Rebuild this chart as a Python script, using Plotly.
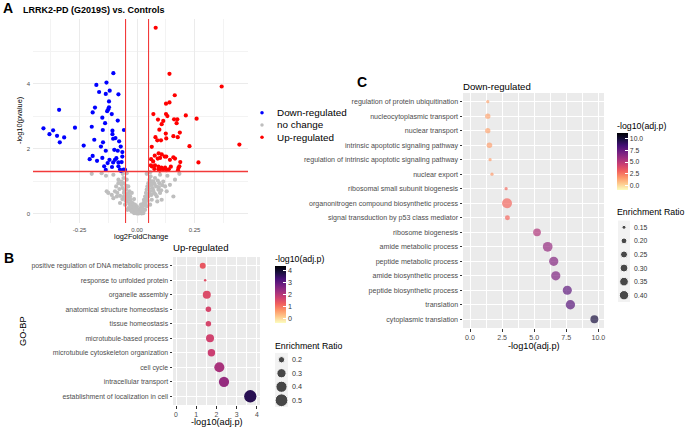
import numpy as np
import plotly.graph_objects as go

W, H = 685, 427
FONT = "Liberation Sans, Arial, sans-serif"

# ---------------- Panel A : volcano data ----------------
down_lfc = [-0.103, -0.177, -0.133, -0.165, -0.136, -0.119, -0.081, -0.122, -0.122, -0.125,
            -0.130, -0.183, -0.193, -0.110, -0.339, -0.151, -0.139, -0.084, -0.197, -0.149,
            -0.107, -0.057, -0.407, -0.365, -0.381, -0.348, -0.317, -0.336, -0.270, -0.107,
            -0.186, -0.104, -0.094, -0.078, -0.148, -0.157, -0.071, -0.099, -0.136, -0.084,
            -0.232, -0.064, -0.064, -0.193, -0.206, -0.174, -0.151, -0.090, -0.096, -0.120,
            -0.128, -0.104, -0.081, -0.067, -0.143, -0.109, -0.081, -0.074, -0.058, -0.136,
            -0.070, -0.052]
down_p = [4.33, 3.97, 4.04, 3.75, 3.69, 3.79, 3.68, 3.46, 3.28, 3.22,
          3.16, 3.27, 3.12, 3.07, 3.20, 2.96, 2.79, 2.87, 2.68, 2.58,
          2.56, 2.58, 2.63, 2.57, 2.45, 2.40, 2.35, 2.20, 2.65, 2.45,
          2.28, 2.31, 2.33, 2.23, 2.20, 2.07, 2.07, 1.97, 1.94, 1.94,
          2.10, 1.90, 1.76, 1.78, 1.68, 1.63, 1.72, 1.71, 1.66, 1.66,
          1.56, 1.58, 1.58, 1.59, 1.46, 1.44, 1.46, 1.36, 1.36, 1.35,
          1.32, 1.35]

up_lfc = [0.081, 0.141, 0.368, 0.164, 0.126, 0.141, 0.071, 0.126, 0.132, 0.212,
          0.259, 0.091, 0.114, 0.161, 0.175, 0.107, 0.172, 0.097, 0.125, 0.186,
          0.080, 0.158, 0.127, 0.177, 0.088, 0.104, 0.064, 0.228, 0.445, 0.094,
          0.107, 0.077, 0.120, 0.127, 0.158, 0.165, 0.061, 0.070, 0.090, 0.100,
          0.267, 0.188, 0.143, 0.078, 0.093, 0.106, 0.122, 0.060, 0.064, 0.147,
          0.180, 0.184, 0.075, 0.093, 0.114, 0.138, 0.178, 0.129, 0.099]
up_p = [5.73, 4.31, 3.92, 3.65, 3.39, 3.43, 3.07, 3.07, 3.01, 3.03,
        2.93, 2.90, 2.86, 2.91, 2.91, 2.76, 2.79, 2.59, 2.47, 2.50,
        2.36, 2.39, 2.32, 2.36, 2.26, 2.26, 2.06, 2.08, 2.13, 1.86,
        1.83, 1.79, 1.76, 1.76, 1.74, 1.70, 1.68, 1.61, 1.70, 1.72,
        1.58, 1.59, 1.66, 1.49, 1.45, 1.42, 1.42, 1.49, 1.46, 1.45,
        1.41, 1.46, 1.38, 1.37, 1.37, 1.37, 1.34, 1.34, 1.33]

nc_lfc = [-0.197, -0.154, -0.135, -0.103, -0.062, -0.045, 0.042, 0.057, 0.165, 0.184,
          0.132, 0.100, -0.132, -0.125, -0.096, -0.088, -0.074, -0.067, -0.062, -0.059,
          -0.057, -0.052, -0.048, -0.045, -0.042, -0.038, -0.033, -0.030, -0.030, -0.028,
          -0.023, -0.023, -0.019, -0.016, -0.013, -0.009, -0.009, -0.004, -0.001, 0.001,
          0.006, 0.010, 0.013, -0.030, -0.023, -0.038, -0.074, -0.103, -0.110, -0.086,
          -0.077, -0.091, -0.081, -0.045, -0.059, -0.067, -0.081, -0.052, -0.042, 0.013,
          0.017, 0.020, 0.025, 0.028, 0.030, 0.035, 0.036, 0.039, 0.042, 0.045,
          0.049, 0.049, 0.054, 0.057, 0.059, 0.064, 0.068, 0.071, 0.074, 0.078,
          0.083, 0.086, 0.088, 0.093, 0.097, 0.100, 0.107, 0.114, 0.122, 0.129,
          0.143, 0.158, 0.064, 0.057, 0.042, 0.035, 0.028, 0.020, 0.007, -0.001,
          -0.013, -0.050, -0.044, -0.036, -0.034, -0.026, -0.020, -0.017, -0.011, -0.006,
          -0.003, 0.003, -0.040, -0.055, -0.047, -0.058, -0.064, -0.036, -0.028, -0.015,
          -0.008, 0.015, 0.022, 0.026, 0.031, 0.033, 0.038, 0.041, 0.044, 0.046,
          0.050, 0.052, 0.055, 0.060, 0.062, 0.066, 0.070, 0.076, 0.080, 0.090,
          0.095, 0.105, 0.110, 0.012, 0.018]
nc_p = [1.23, 1.25, 1.17, 1.20, 1.23, 1.25, 1.23, 1.28, 1.05, 1.23,
        1.17, 1.20, 0.69, 0.64, 0.69, 0.53, 0.55, 0.89, 0.79, 0.94,
        0.64, 0.48, 0.74, 0.58, 0.38, 0.84, 0.69, 0.53, 0.28, 0.43,
        0.23, 0.64, 0.33, 0.17, 0.45, 0.12, 0.28, 0.07, 0.23, 0.12,
        0.02, 0.07, 0.12, 0.12, 0.07, 0.17, 0.33, 0.48, 0.58, 0.64,
        0.76, 0.84, 0.94, 1.05, 1.10, 0.99, 1.05, 0.28, 0.12, 0.17,
        0.28, 0.07, 0.23, 0.33, 0.43, 0.53, 0.38, 0.64, 0.74, 0.84,
        0.94, 0.53, 1.05, 0.69, 1.15, 0.89, 0.79, 0.99, 0.64, 1.10,
        0.84, 0.53, 0.38, 0.74, 0.94, 0.64, 0.43, 0.99, 0.84, 0.69,
        0.89, 0.53, 0.43, 0.28, 0.23, 0.12, 0.02, 0.01, 0.01, 0.01,
        0.02, 0.40, 0.50, 0.45, 0.30, 0.35, 0.15, 0.25, 0.18, 0.10,
        0.15, 0.05, 0.62, 0.70, 0.86, 0.52, 0.45, 0.58, 0.20, 0.05,
        0.03, 0.08, 0.18, 0.12, 0.25, 0.35, 0.30, 0.45, 0.55, 0.40,
        0.62, 0.78, 0.88, 0.95, 0.58, 1.00, 0.72, 0.92, 0.60, 1.02,
        0.82, 0.72, 0.88, 0.04, 0.14]

lfc_cutoffs = [-0.05, 0.05]
p_cutoff = 1.301
volcano_groups = ["Down-regulated", "no change", "Up-regulated"]
volcano_colors = ["#0000FF", "#BEBEBE", "#FF0000"]

# ---------------- Panel B : up-regulated GO-BP ----------------
up_terms = ["positive regulation of DNA metabolic process", "response to unfolded protein",
            "organelle assembly", "anatomical structure homeostasis", "tissue homeostasis",
            "microtubule-based process", "microtubule cytoskeleton organization", "cell cycle",
            "intracellular transport", "establishment of localization in cell"]
up_logp = [1.32, 1.44, 1.52, 1.60, 1.60, 1.68, 1.75, 2.14, 2.37, 3.67]
up_ratio = [0.19, 0.15, 0.25, 0.18, 0.18, 0.25, 0.23, 0.34, 0.35, 0.47]
up_size_breaks = [0.2, 0.3, 0.4, 0.5]
up_color_ticks = [0, 1, 2, 3, 4]

# ---------------- Panel C : down-regulated GO-BP ----------------
down_terms = ["regulation of protein ubiquitination", "nucleocytoplasmic transport", "nuclear transport",
              "intrinsic apoptotic signaling pathway", "regulation of intrinsic apoptotic signaling pathway",
              "nuclear export", "ribosomal small subunit biogenesis",
              "organonitrogen compound biosynthetic process", "signal transduction by p53 class mediator",
              "ribosome biogenesis", "amide metabolic process", "peptide metabolic process",
              "amide biosynthetic process", "peptide biosynthetic process", "translation",
              "cytoplasmic translation"]
down_logp = [1.38, 1.38, 1.38, 1.51, 1.56, 1.71, 2.81, 2.88, 2.91, 5.22, 6.05, 6.52, 6.68, 7.58, 7.82, 9.69]
down_ratio = [0.14, 0.18, 0.18, 0.19, 0.14, 0.14, 0.14, 0.45, 0.17, 0.29, 0.43, 0.39, 0.39, 0.38, 0.40, 0.30]
down_size_breaks = [0.15, 0.20, 0.25, 0.30, 0.35, 0.40]
down_color_ticks = [0, 2.5, 5, 7.5, 10]
down_color_ticktext = ["0.0", "2.5", "5.0", "7.5", "10.0"]
down_x_ticks = [0, 2.5, 5, 7.5, 10]


# ---------------- helpers ----------------
def fx(px):
    return px / W


def fy(py):
    return 1 - py / H


def size_up(r):
    r = np.asarray(r, dtype=float)
    return 2.5 + 11.0 * np.sqrt(np.clip((r - 0.15) / 0.40, 0, None))


def size_down(r):
    r = np.asarray(r, dtype=float)
    return 2.5 + 7.5 * np.sqrt(np.clip((r - 0.137) / 0.313, 0, None))


MAGMA_R = ['#fcfdbf', '#feca8d', '#fd9668', '#f1605d', '#cd4071',
           '#9e2f7f', '#721f81', '#440f76', '#180f3d', '#000004']
RED_LINE = "#F23A3A"

XR_A = [-0.4525, 0.4825]
YR_A = [-0.286, 6.0]

annotations = []


def ann(text, x, y, size, color="black", bold=False, xanchor="left", yanchor="middle",
        angle=0, xref="paper", yref="paper"):
    if xref == "paper":
        x = fx(x)
    if yref == "paper":
        y = fy(y)
    annotations.append(dict(text=("<b>%s</b>" % text) if bold else text, x=x, y=y,
                            xref=xref, yref=yref, xanchor=xanchor, yanchor=yanchor,
                            showarrow=False, textangle=angle, borderpad=0,
                            font=dict(family=FONT, size=size, color=color)))


fig = go.Figure()

# ---- Panel A traces ----
for lfc, pv, col in [(nc_lfc, nc_p, volcano_colors[1]), (down_lfc, down_p, volcano_colors[0]),
                     (up_lfc, up_p, volcano_colors[2])]:
    fig.add_trace(go.Scatter(x=lfc, y=pv, mode="markers", xaxis="x", yaxis="y",
                             marker=dict(color=col, size=4.2), showlegend=False, hoverinfo="skip"))

# threshold lines (cut-offs drawn across the full axis range)
for xc in lfc_cutoffs:
    fig.add_trace(go.Scatter(x=[xc, xc], y=YR_A, mode="lines", xaxis="x", yaxis="y",
                             line=dict(color=RED_LINE, width=1.1), showlegend=False, hoverinfo="skip"))
fig.add_trace(go.Scatter(x=XR_A, y=[p_cutoff, p_cutoff], mode="lines", xaxis="x", yaxis="y",
                         line=dict(color=RED_LINE, width=1.4), showlegend=False, hoverinfo="skip"))

# A legend (hidden axes x6/y6)
fig.add_trace(go.Scatter(x=[0] * len(volcano_groups), y=list(range(len(volcano_groups))),
                         mode="markers", xaxis="x6", yaxis="y6",
                         marker=dict(color=volcano_colors, size=3.5), showlegend=False, hoverinfo="skip"))
for i, g in enumerate(volcano_groups):
    ann(g, 276, i, 9.9, color="black", xref="paper", yref="y6")

# ---- Panel B ----
nB = len(up_terms)
yB = [nB - 1 - i for i in range(nB)]
fig.add_trace(go.Scatter(x=up_logp, y=yB, mode="markers", xaxis="x2", yaxis="y2",
                         marker=dict(size=size_up(up_ratio), color=up_logp, coloraxis="coloraxis",
                                     line=dict(width=0), opacity=1),
                         showlegend=False, hoverinfo="skip"))
# B size legend
fig.add_trace(go.Scatter(x=[0] * len(up_size_breaks), y=list(range(len(up_size_breaks))),
                         mode="markers", xaxis="x4", yaxis="y4",
                         marker=dict(size=size_up(up_size_breaks), color="black"),
                         showlegend=False, hoverinfo="skip"))
for i, b in enumerate(up_size_breaks):
    ann("%g" % b, 290.5, i, 7.2, color="#333333", yref="y4")

# ---- Panel C ----
nC = len(down_terms)
yC = [nC - 1 - i for i in range(nC)]
fig.add_trace(go.Scatter(x=down_logp, y=yC, mode="markers", xaxis="x3", yaxis="y3",
                         marker=dict(size=size_down(down_ratio), color=down_logp, coloraxis="coloraxis2",
                                     line=dict(width=0)),
                         showlegend=False, hoverinfo="skip"))
fig.add_trace(go.Scatter(x=[0] * len(down_size_breaks), y=list(range(len(down_size_breaks))),
                         mode="markers", xaxis="x5", yaxis="y5",
                         marker=dict(size=size_down(down_size_breaks), color="black"),
                         showlegend=False, hoverinfo="skip"))
for i, b in enumerate(down_size_breaks):
    ann("%.2f" % b, 633, i, 6.8, color="#333333", yref="y5")

# ---- shapes (panel / legend-key backgrounds) ----
shapes = []
for ax in ["2", "3"]:
    shapes.append(dict(type="rect", xref="x%s domain" % ax, yref="y%s domain" % ax, x0=0, x1=1, y0=0, y1=1,
                       fillcolor="#EBEBEB", line=dict(width=0), layer="below"))
for ax in ["4", "5"]:
    shapes.append(dict(type="rect", xref="x%s domain" % ax, yref="y%s domain" % ax, x0=0, x1=1, y0=0, y1=1,
                       fillcolor="#F2F2F2", line=dict(width=0), layer="below"))

# ---- text annotations ----
ann("A", 2, 8, 14, bold=True)
ann("LRRK2-PD (G2019S) vs. Controls", 22, 10, 9.0, bold=True)
ann("log2FoldChange", 140.5, 237, 7.4, xanchor="center")
ann("-log10(pvalue)", 20, 121, 7.4, xanchor="center", angle=-90)
ann("B", 3, 258, 14, bold=True)
ann("Up-regulated", 172, 247, 9.6, xanchor="left")
ann("GO-BP", 23, 331, 9.2, xanchor="center", angle=-90)
ann("-log10(adj.p)", 216.5, 422, 9.2, xanchor="center")
ann("-log10(adj.p)", 274, 259, 8.8)
ann("Enrichment Ratio", 274, 346, 8.8)
ann("C", 356, 82, 14, bold=True)
ann("Down-regulated", 462, 86, 9.6, xanchor="left")
ann("-log10(adj.p)", 533.5, 345.5, 9.2, xanchor="center")
ann("-log10(adj.p)", 616, 125.5, 8.8)
ann("Enrichment Ratio", 616, 212, 8.8)

tickfontB = dict(family=FONT, size=6.9, color="#4D4D4D")
tickfontC = dict(family=FONT, size=7.1, color="#4D4D4D")
tickfontA = dict(family=FONT, size=6, color="#4D4D4D")

layout = dict(
    width=W, height=H, margin=dict(l=0, r=0, t=0, b=0),
    paper_bgcolor="white", plot_bgcolor="rgba(0,0,0,0)",
    font=dict(family=FONT),
    showlegend=False,
    # Panel A
    xaxis=dict(domain=[fx(33), fx(248)], range=XR_A, anchor="y",
               tickvals=[-0.25, 0, 0.25], ticktext=["-0.25", "0.00", "0.25"],
               showgrid=True, gridcolor="#EBEBEB", gridwidth=0.8, zeroline=False, showline=False,
               ticks="", tickfont=tickfontA, ticklabelstandoff=2,
               minor=dict(tickvals=[-0.375, -0.125, 0.125, 0.375], showgrid=True,
                          gridcolor="#F3F3F3", gridwidth=0.5)),
    yaxis=dict(domain=[fy(223), fy(19)], range=YR_A, anchor="x",
               tickvals=[0, 2, 4], ticktext=["0", "2", "4"],
               showgrid=True, gridcolor="#EBEBEB", gridwidth=0.8, zeroline=False, showline=False,
               ticks="", tickfont=tickfontA, ticklabelstandoff=2,
               minor=dict(tickvals=[1, 3, 5], showgrid=True, gridcolor="#F3F3F3", gridwidth=0.5)),
    # Panel B
    xaxis2=dict(domain=[fx(173), fx(260)], range=[-0.15, 4.15], anchor="y2",
                tickvals=[0, 1, 2, 3, 4], showgrid=True, gridcolor="white", gridwidth=0.9,
                zeroline=False, showline=False, ticks="outside", ticklen=2.5, tickwidth=0.6,
                tickcolor="#333333", tickfont=tickfontB,
                minor=dict(tickvals=[0.5, 1.5, 2.5, 3.5], showgrid=True, gridcolor="white",
                           gridwidth=0.45)),
    yaxis2=dict(domain=[fy(405), fy(257)], range=[-0.6, nB - 0.4], anchor="x2",
                tickvals=yB, ticktext=up_terms, showgrid=True, gridcolor="white", gridwidth=0.9,
                zeroline=False, showline=False, ticks="outside", ticklen=2.5, tickwidth=0.6,
                tickcolor="#333333", tickfont=tickfontB),
    # Panel C
    xaxis3=dict(domain=[fx(463), fx(604)], range=[-0.55, 10.44], anchor="y3",
                tickvals=down_x_ticks, ticktext=down_color_ticktext,
                showgrid=True, gridcolor="white", gridwidth=0.9,
                zeroline=False, showline=False, ticks="outside", ticklen=2.5, tickwidth=0.6,
                tickcolor="#333333", tickfont=tickfontC,
                minor=dict(tickvals=[1.25, 3.75, 6.25, 8.75], showgrid=True, gridcolor="white",
                           gridwidth=0.45)),
    yaxis3=dict(domain=[fy(328), fy(93)], range=[-0.6, nC - 0.4], anchor="x3",
                tickvals=yC, ticktext=down_terms, showgrid=True, gridcolor="white", gridwidth=0.9,
                zeroline=False, showline=False, ticks="outside", ticklen=2.5, tickwidth=0.6,
                tickcolor="#333333", tickfont=tickfontC),
    # hidden legend axes
    xaxis4=dict(domain=[fx(275), fx(288)], range=[-1, 1], anchor="y4", visible=False),
    yaxis4=dict(domain=[fy(407), fy(353)], range=[len(up_size_breaks) - 0.5, -0.5], anchor="x4",
                visible=False),
    xaxis5=dict(domain=[fx(618), fx(630)], range=[-1, 1], anchor="y5", visible=False),
    yaxis5=dict(domain=[fy(302), fy(220.5)], range=[len(down_size_breaks) - 0.5, -0.5], anchor="x5",
                visible=False),
    xaxis6=dict(domain=[fx(257), fx(267)], range=[-1, 1], anchor="y6", visible=False),
    yaxis6=dict(domain=[fy(143.5), fy(106.5)], range=[len(volcano_groups) - 0.5, -0.5], anchor="x6",
                visible=False),
    coloraxis=dict(colorscale=MAGMA_R, cmin=-0.42, cmax=4.4,
                   colorbar=dict(x=fx(274.5), xanchor="left", y=fy(294.5), yanchor="middle",
                                 len=57, lenmode="pixels", thickness=11, thicknessmode="pixels",
                                 xpad=0, ypad=0, outlinewidth=0, tickvals=up_color_ticks,
                                 ticks="inside", ticklen=3, tickcolor="white", tickwidth=0.8,
                                 tickfont=dict(family=FONT, size=7.2, color="#333333"),
                                 title=dict(text=""))),
    coloraxis2=dict(colorscale=MAGMA_R, cmin=-0.9, cmax=11.05,
                    colorbar=dict(x=fx(617), xanchor="left", y=fy(161.7), yanchor="middle",
                                  len=57, lenmode="pixels", thickness=11, thicknessmode="pixels",
                                  xpad=0, ypad=0, outlinewidth=0, tickvals=down_color_ticks,
                                  ticktext=down_color_ticktext,
                                  ticks="inside", ticklen=3, tickcolor="white", tickwidth=0.8,
                                  tickfont=dict(family=FONT, size=6.8, color="#333333"),
                                  title=dict(text=""))),
    shapes=shapes,
    annotations=annotations,
)
fig.update_layout(**layout)

fig.write_html("out.html", config={"displayModeBar": False},
               post_script="document.body.style.margin='0';document.body.style.overflow='hidden';")
